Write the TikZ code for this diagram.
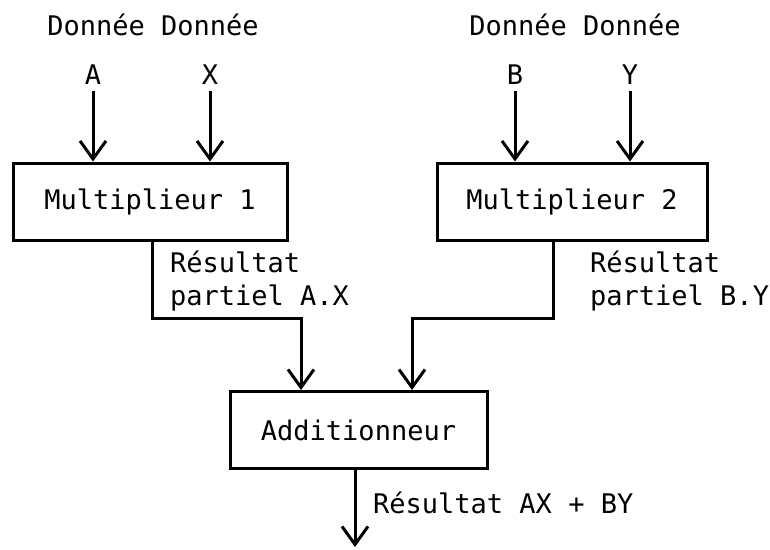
\documentclass[tikz,border=0pt]{standalone}
\usepackage{fontspec}
\setmonofont{DejaVu Sans Mono}
\usetikzlibrary{arrows.meta}
\begin{document}
\begin{tikzpicture}[x=1pt,y=-1pt,
  every node/.style={font=\ttfamily\fontsize{27}{33}\selectfont, inner sep=0pt},
  blockbox/.style={draw, line width=3pt, minimum width=#1, minimum height=77pt},
  flow/.style={line width=3pt, -{Straight Barb[length=18pt,width=26pt,line width=3pt]}},
  wire/.style={line width=3pt},
  lbl/.style={anchor=west, align=left}]
\useasboundingbox (0,0) rectangle (770,549);

% multipliers and adder
\node[blockbox=274pt] (m1) at (150,201.5) {Multiplieur 1};
\node[blockbox=270pt] (m2) at (572,201.5) {Multiplieur 2};
\node[blockbox=257pt] (add) at (358.5,430) {Additionneur};

% input labels
\node (d1) at (153,25) {Donnée Donnée};
\node (d2) at (575,25) {Donnée Donnée};
\node (a) at (93,75) {A};
\node (x) at (210,75) {X};
\node (b) at (515,75) {B};
\node (y) at (630,75) {Y};

% inputs
\draw[flow] (a.south |- 0,91) -- (a.south |- m1.north);
\draw[flow] (x.south |- 0,91) -- (x.south |- m1.north);
\draw[flow] (b.south |- 0,91) -- (b.south |- m2.north);
\draw[flow] (y.south |- 0,91) -- (y.south |- m2.north);

% partial results to the adder
\coordinate (o1) at (152,240);
\coordinate (o2) at (553,240);
\coordinate (i1) at (301,392);
\coordinate (i2) at (412,392);
\draw[flow] (o1 |- m1.south) |- (301,318) -- (i1 |- add.north);
\draw[flow] (o2 |- m2.south) |- (412,318) -- (i2 |- add.north);

\node[lbl] (r1) at (170,281) {Résultat\\partiel A.X};
\node[lbl] (r2) at (590,281) {Résultat\\partiel B.Y};

% final result
\coordinate (out) at (355,547);
\draw[flow] (out |- add.south) -- (out);
\node[lbl] (r3) at (373,503) {Résultat AX + BY};
\end{tikzpicture}
\end{document}
